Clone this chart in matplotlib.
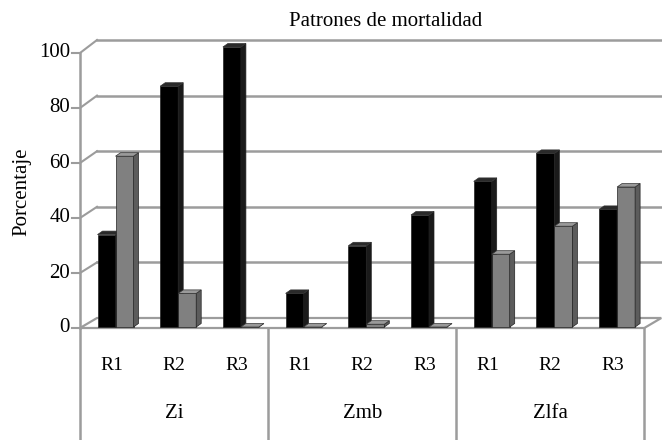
import matplotlib
matplotlib.use("Agg")
import matplotlib.pyplot as plt
from matplotlib.patches import Polygon

plt.rcParams["font.family"] = ["Liberation Serif", "DejaVu Serif"]

groups = ["Zi", "Zmb", "Zlfa"]
reps = ["R1", "R2", "R3"]
black_vals = [33, 86, 100, 12, 29, 40, 52, 62, 42]
gray_vals = [61, 12, 0, 0, 1, 0, 26, 36, 50]
yticks = [0, 20, 40, 60, 80, 100]

W, H = 662, 440
SLOT = 62.7          # px per category slot
YS = 2.8             # px per percent unit
X0, Y0 = 80, 327     # front-left corner of the floor, px from top-left


def px_x(p):
    return p / SLOT


def px_y(p):
    return p / YS


fig = plt.figure(figsize=(W / 100, H / 100), dpi=100)
ax = fig.add_axes([0, 0, 1, 1])
ax.set_xlim(-X0 / SLOT, (W - X0) / SLOT)
ax.set_ylim(-(H - Y0) / YS, Y0 / YS)
ax.axis("off")

n = len(black_vals)
grid_c = "#9c9c9c"
depth_x, depth_y = px_x(17), px_y(9)


def front_v(v):
    # front axis is slightly compressed compared with the bars
    return (-1 + 2.75 * v) / YS


# floor
floor = Polygon([(0, front_v(0)), (n, front_v(0)), (n + depth_x, depth_y),
                 (depth_x, depth_y)], closed=True, facecolor="white",
                edgecolor=grid_c, lw=1.6, zorder=1)
ax.add_patch(floor)

# gridlines on the back wall and the diagonal to the front axis
for v in yticks[1:]:
    yb = depth_y + v * 2.78 / YS
    ax.plot([depth_x, n + depth_x], [yb, yb], color=grid_c, lw=1.8, zorder=1)
    ax.plot([0, depth_x], [front_v(v), yb], color=grid_c, lw=1.5, zorder=1)

# front axis and ticks
ax.plot([0, 0], [front_v(0), front_v(100)], color=grid_c, lw=1.8, zorder=2)
for v in yticks:
    ax.plot([-px_x(8), 0], [front_v(v), front_v(v)], color=grid_c, lw=1.5, zorder=2)
    ax.text(-px_x(10), front_v(v), str(v), ha="right", va="center", fontsize=15)

ax.text(-px_x(58), px_y(Y0 - 192), "Porcentaje", rotation=90, ha="center",
        va="center", fontsize=15)
ax.text(px_x(386 - X0), px_y(Y0 - 22), "Patrones de mortalidad", ha="center",
        va="center", fontsize=15)

bw = px_x(18)
sx, sy = px_x(5), px_y(3.5)


def bar3d(x, v, front, side, top):
    ax.bar(x, v, width=bw, bottom=0, align="edge", color=front,
           edgecolor="#222222", lw=0.5, zorder=3)
    ax.add_patch(Polygon([(x + bw, 0), (x + bw + sx, sy), (x + bw + sx, v + sy),
                          (x + bw, v)], closed=True, facecolor=side,
                         edgecolor="#222222", lw=0.5, zorder=3))
    ax.add_patch(Polygon([(x, v), (x + sx, v + sy), (x + bw + sx, v + sy),
                          (x + bw, v)], closed=True, facecolor=top,
                         edgecolor="#333333", lw=0.5, zorder=3))


for i in range(n):
    xb = i + px_x(17.5)
    bar3d(xb, black_vals[i], "black", "#1a1a1a", "#2a2a2a")
    bar3d(xb + bw, gray_vals[i], "#808080", "#5c5c5c", "#9a9a9a")

# category table below the floor
for k in range(len(groups) + 1):
    ax.plot([3 * k, 3 * k], [front_v(0), -(H - Y0) / YS], color=grid_c,
            lw=1.8, zorder=2)
for i in range(n):
    ax.text(i + 0.5, px_y(Y0 - 366), reps[i % 3], ha="center", va="center",
            fontsize=14)
for k, g in enumerate(groups):
    ax.text(3 * k + 1.5, px_y(Y0 - 413), g, ha="center", va="center",
            fontsize=15)

fig.savefig("out.png", dpi=100)
plt.close(fig)
